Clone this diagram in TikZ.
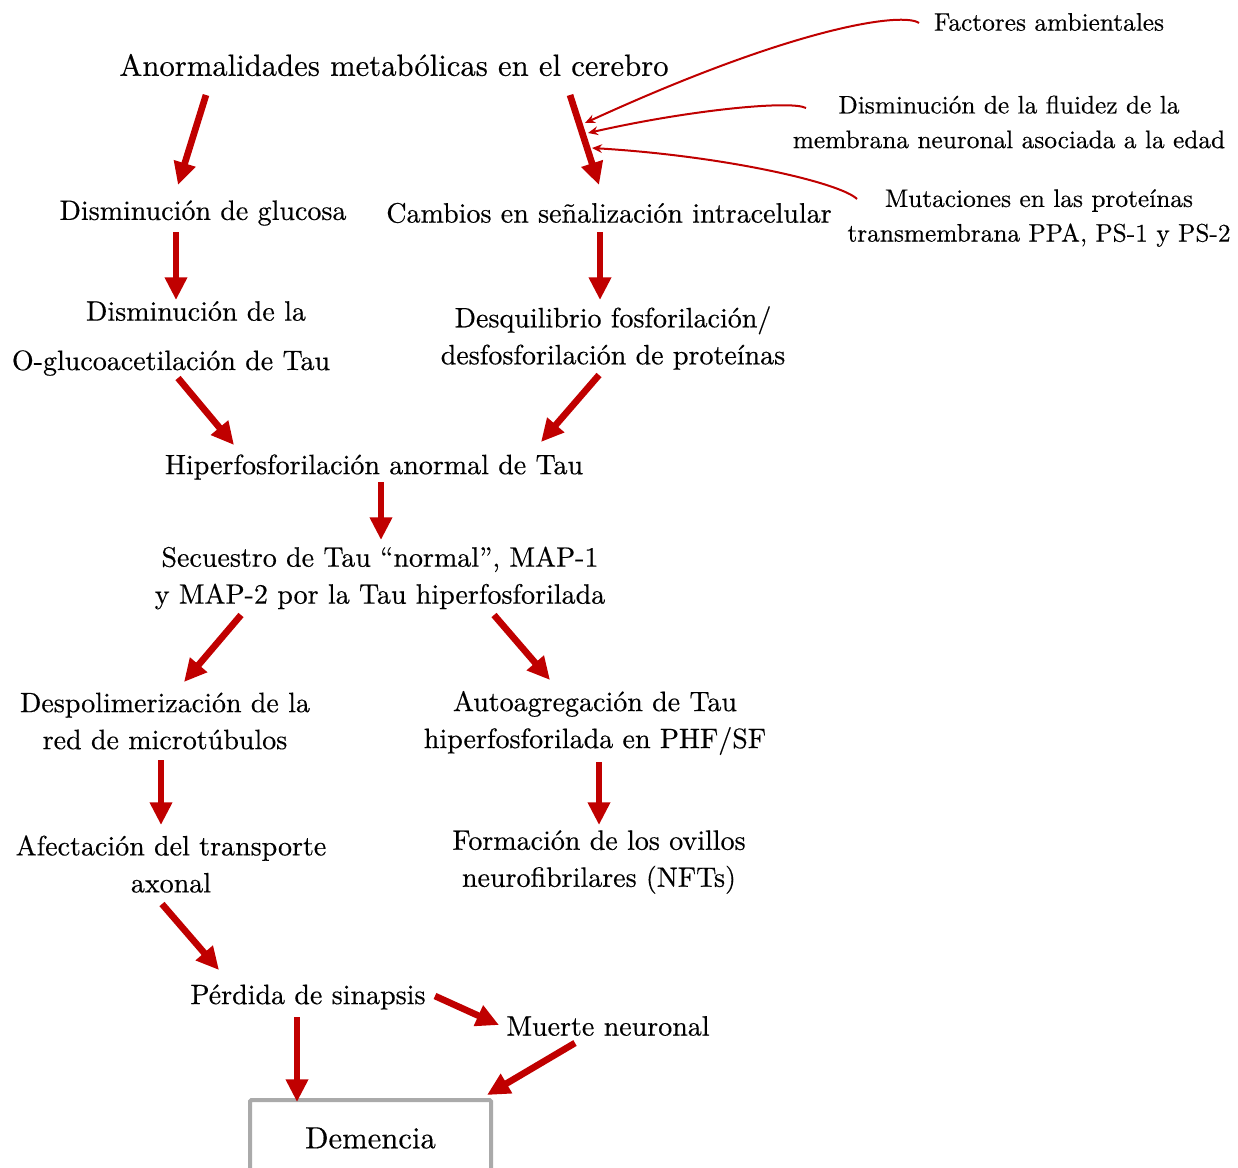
\documentclass[tikz,border=0pt]{standalone}
\usepackage{fontspec}
\setmainfont{lmroman10-regular.otf}[FakeBold=0.4]
\usetikzlibrary{arrows.meta,calc}
\definecolor{arrred}{RGB}{192,0,0}
\definecolor{boxgray}{RGB}{170,170,170}
\begin{document}
\begin{tikzpicture}[x=0.75pt,y=-0.75pt,
  txt/.style={font=\fontsize{21}{27.75}\selectfont, inner sep=0pt, align=center},
  titletxt/.style={font=\fontsize{23}{28}\selectfont, inner sep=0pt, align=center},
  sidetxt/.style={font=\fontsize{19}{26}\selectfont, inner sep=0pt, align=center},
  big/.style={arrred, line width=5pt, -{Triangle[length=17pt,width=16pt]}},
  thinarr/.style={arrred, line width=1.5pt, -{Stealth[length=7.5pt,width=6.5pt]}},
  finalbox/.style={draw=boxgray, line width=3pt, rounded corners=1pt,
    minimum width=180.75pt, minimum height=57pt, inner sep=0pt,
    font=\fontsize{23}{28}\selectfont}]
\useasboundingbox (0,0) rectangle (1238,1167);

\node[titletxt] (tit) at (394,65) {Anormalidades metabólicas en el cerebro};
\node[txt] (glu) at (203,213) {Disminución de glucosa};
\node[txt] (cam) at (609,213) {Cambios en señalización intracelular};
\node[txt] (og1) at (196,311) {Disminución de la};
\node[txt] (og2) at (171,363) {O-glucoacetilación de Tau};
\node[txt] (des) at (613,338) {Desquilibrio fosforilación/\\desfosforilación de proteínas};
\node[txt] (hip) at (374,467) {Hiperfosforilación anormal de Tau};
\node[txt] (sec) at (380,578) {Secuestro de Tau “normal”, MAP-1\\y MAP-2 por la Tau hiperfosforilada};
\node[txt] (dep) at (165,721) {Despolimerización de la\\red de microtúbulos};
\node[txt] (aut) at (595,723) {Autoagregación de Tau\\hiperfosforilada en PHF/SF};
\node[txt] (afe) at (171,864) {Afectación del transporte\\axonal};
\node[txt] (for) at (599,862) {Formación de los ovillos\\neurofibrilares (NFTs)};
\node[txt] (per) at (308,997) {Pérdida de sinapsis};
\node[txt] (mue) at (608,1026) {Muerte neuronal};
\node[finalbox] (dem) at (370.5,1138) {Demencia};

\node[sidetxt] (fac) at (1049,22) {Factores ambientales};
\node[sidetxt] (flu) at (1009,122) {Disminución de la fluidez de la\\membrana neuronal asociada a la edad};
\node[sidetxt] (mut) at (1039,218) {Mutaciones en las proteínas\\transmembrana PPA, PS-1 y PS-2};

% thick arrows
\draw[big] ($(tit)+(-188,30)$) -- ($(glu)+(-25,-28)$);
\draw[big] ($(tit)+(176,30)$) -- ($(cam)+(-10,-28)$);
\draw[big] ($(glu)+(-27,19)$) -- ($(og1)+(-20,-11)$);
\draw[big] ($(cam)+(-9,19)$) -- ($(des)+(-13,-38)$);
\draw[big] ($(og2)+(7,15)$) -- ($(hip)+(-140,-22)$);
\draw[big] ($(des)+(-14,37)$) -- ($(hip)+(167,-25)$);
\draw[big] ($(hip)+(7,15)$) -- ($(sec)+(1,-38)$);
\draw[big] ($(sec)+(-139,37)$) -- ($(dep)+(19,-39)$);
\draw[big] ($(sec)+(114,37)$) -- ($(aut)+(-45,-43)$);
\draw[big] ($(dep)+(-4,39)$) -- ($(afe)+(-10,-39)$);
\draw[big] ($(aut)+(4,39)$) -- ($(for)+(0,-37)$);
\draw[big] ($(afe)+(-9,40)$) -- ($(per)+(-89,-27)$);
\draw[big] ($(per)+(127,-1)$) -- ($(mue)+(-109,-1)$);
\draw[big] ($(per)+(-11,20)$) -- ($(dem)+(-73.5,-36)$);
\draw[big] ($(mue)+(-33,17)$) -- ($(dem)+(116.5,-43)$);

% thin arrows onto the signalling arrow
\coordinate (hit1) at ($(tit)+(191,58)$);
\coordinate (hit2) at ($(tit)+(194,68)$);
\coordinate (hit3) at ($(tit)+(198,83)$);
\draw[thinarr] ($(fac)+(-130,1)$) .. controls ($(fac)+(-145,-10)$) and ($(fac)+(-250,3)$) .. (hit1);
\draw[thinarr] ($(flu)+(-203,-14)$) .. controls ($(flu)+(-218,-22)$) and ($(flu)+(-320,-12)$) .. (hit2);
\draw[thinarr] ($(mut)+(-182,-19)$) .. controls ($(mut)+(-198,-35)$) and ($(mut)+(-313,-62)$) .. (hit3);
\end{tikzpicture}
\end{document}
